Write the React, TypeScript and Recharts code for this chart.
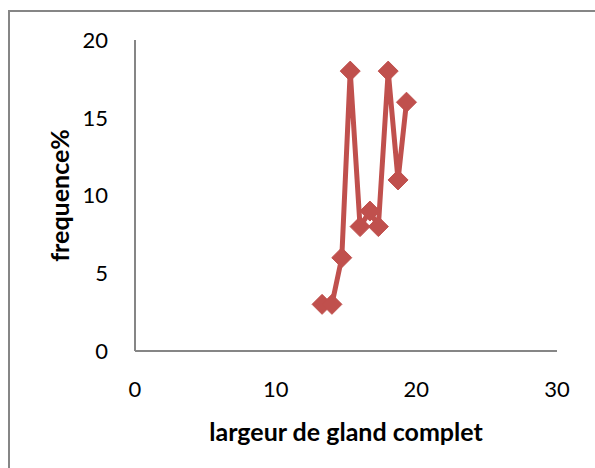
import { ScatterChart, Scatter, XAxis, YAxis, Label } from 'recharts';

// acorn width classes and their share of the sample
const widths = [13.3, 14, 14.7, 15.3, 16, 16.7, 17.3, 18, 18.7, 19.3];
const frequencies = [3, 3, 6, 18, 8, 9, 8, 18, 11, 16];

const xTicks = [0, 10, 20, 30];
const yTicks = [0, 5, 10, 15, 20];

const RED = '#C0504D';
const AXIS = '#868686';
const FONT = 'Lato, Carlito, Calibri, sans-serif';

const data = widths.map((w, i) => ({ x: w, y: frequencies[i] }));

function Diamond(props: any) {
  const { cx, cy } = props;
  const r = 10;
  return (
    <polygon
      points={`${cx},${cy - r} ${cx + r},${cy} ${cx},${cy + r} ${cx - r},${cy}`}
      fill={RED}
      stroke={RED}
      strokeWidth={1}
    />
  );
}

export default function App() {
  return (
    <div style={{ position: 'absolute', left: 0, top: 0, width: 595, height: 468, background: '#fff', fontFamily: FONT }}>
      <div
        style={{
          position: 'absolute',
          left: 8,
          top: 10,
          width: 595,
          height: 468,
          borderTop: `2px solid ${AXIS}`,
          borderLeft: `2px solid ${AXIS}`,
        }}
      />
      <div style={{ position: 'absolute', left: 0, top: 0 }}>
        <ScatterChart width={595} height={468} margin={{ top: 40, right: 38, bottom: 0, left: 0 }}>
          <XAxis
            type="number"
            dataKey="x"
            domain={[0, 30]}
            ticks={xTicks}
            height={117}
            tickLine={false}
            tickSize={0}
            tickMargin={30}
            axisLine={{ stroke: AXIS, strokeWidth: 2 }}
            tick={{ fontSize: 22, fill: '#000', fontFamily: FONT }}
          >
            <Label
              value="largeur de gland complet"
              position="insideBottom"
              offset={27}
              style={{ fontSize: 25, fontWeight: 700, fill: '#000', fontFamily: FONT }}
            />
          </XAxis>
          <YAxis
            type="number"
            dataKey="y"
            domain={[0, 20]}
            ticks={yTicks}
            width={135}
            tickLine={false}
            tickSize={0}
            tickMargin={27}
            axisLine={{ stroke: AXIS, strokeWidth: 2 }}
            tick={{ fontSize: 22, fill: '#000', fontFamily: FONT }}
          >
            <Label
              value="frequence%"
              angle={-90}
              position="insideLeft"
              offset={60}
              style={{ fontSize: 25, fontWeight: 700, fill: '#000', fontFamily: FONT, textAnchor: 'middle' }}
            />
          </YAxis>
          <Scatter
            data={data}
            line={{ stroke: RED, strokeWidth: 5 }}
            shape={(p: any) => <Diamond {...p} />}
            isAnimationActive={false}
          />
        </ScatterChart>
      </div>
    </div>
  );
}
